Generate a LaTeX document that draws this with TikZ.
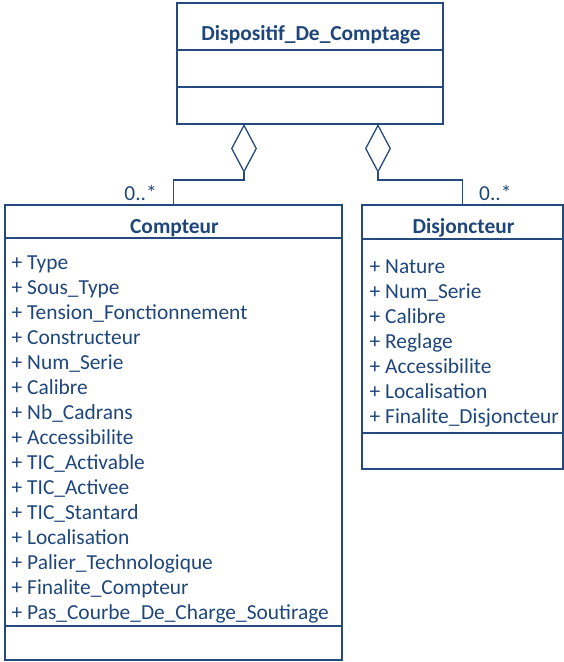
\documentclass[tikz,border=0pt]{standalone}
\usepackage{fontspec}
\setmainfont{Carlito}
\usepackage{tikz}
\usetikzlibrary{arrows.meta, positioning}
\definecolor{umlblue}{RGB}{31,70,122}
\definecolor{umlline}{RGB}{38,74,126}
\tikzset{
    classpart/.style = {draw=umlline, rectangle, line width=1.3pt, inner sep=0pt, outer sep=0pt,
      node distance=0pt},
    titlenode/.style = {text=umlblue, inner sep=0pt, anchor=base, font=\fontsize{21.4}{25}\selectfont\bfseries},
    attrnode/.style  = {text=umlblue, inner sep=0pt, anchor=base west, font=\fontsize{21.4}{25}\selectfont},
    multnode/.style  = {text=umlblue, inner sep=0pt, font=\fontsize{21.4}{25}\selectfont},
    aggreg/.style = {draw=umlline, line width=1.3pt, -{Diamond[open, length=49pt, width=26pt]}}
}

\begin{document}
\begin{tikzpicture}[x=1pt, y=1pt]
    \useasboundingbox (0,0) rectangle (564,-662);

    % Dispositif_De_Comptage
    \node [classpart, anchor=north west, minimum width=266pt, minimum height=47pt, name=dispHead] at (177,-3) {};
    \node [classpart, below=of dispHead, minimum width=266pt, minimum height=37pt, name=dispAttr] {};
    \node [classpart, below=of dispAttr, minimum width=266pt, minimum height=37pt, name=dispMeth] {};
    \node [titlenode, name=dispName] at (311,-40) {Dispositif\_De\_Comptage};

    % Compteur
    \node [classpart, anchor=north west, minimum width=337pt, minimum height=33pt, name=cptHead] at (5,-205) {};
    \node [classpart, below=of cptHead, minimum width=337pt, minimum height=388pt, name=cptAttr] {};
    \node [classpart, below=of cptAttr, minimum width=337pt, minimum height=34pt, name=cptMeth] {};
    \node [titlenode, name=cptName] at (174.5,-233) {Compteur};
    \foreach \a [count=\i] in {Type, Sous\_Type, Tension\_Fonctionnement, Constructeur, Num\_Serie,
        Calibre, Nb\_Cadrans, Accessibilite, TIC\_Activable, TIC\_Activee, TIC\_Stantard,
        Localisation, Palier\_Technologique, Finalite\_Compteur, Pas\_Courbe\_De\_Charge\_Soutirage}
        \node [attrnode, name=cpt\i] at (11.5,-269-25*\i+25) {+ \a};

    % Disjoncteur
    \node [classpart, anchor=north west, minimum width=201pt, minimum height=34pt, name=disHead] at (362,-205) {};
    \node [classpart, below=of disHead, minimum width=201pt, minimum height=194pt, name=disAttr] {};
    \node [classpart, below=of disAttr, minimum width=201pt, minimum height=36pt, name=disMeth] {};
    \node [titlenode, name=disName] at (463.5,-233) {Disjoncteur};
    \foreach \a [count=\i] in {Nature, Num\_Serie, Calibre, Reglage, Accessibilite, Localisation,
        Finalite\_Disjoncteur}
        \node [attrnode, name=dis\i] at (369.5,-273-25*\i+25) {+ \a};

    % aggregations
    \coordinate (aggL) at (244,-124);
    \coordinate (aggR) at (378,-124);
    \draw [aggreg] (cptHead.north) -- ++(0,25) -| (aggL);
    \draw [aggreg] (disHead.north) -- ++(0,25) -| (aggR);
    \node [multnode, anchor=base east, name=multL] at (157,-200) {0..*};
    \node [multnode, anchor=base west, name=multR] at (479,-200) {0..*};
\end{tikzpicture}
\end{document}
